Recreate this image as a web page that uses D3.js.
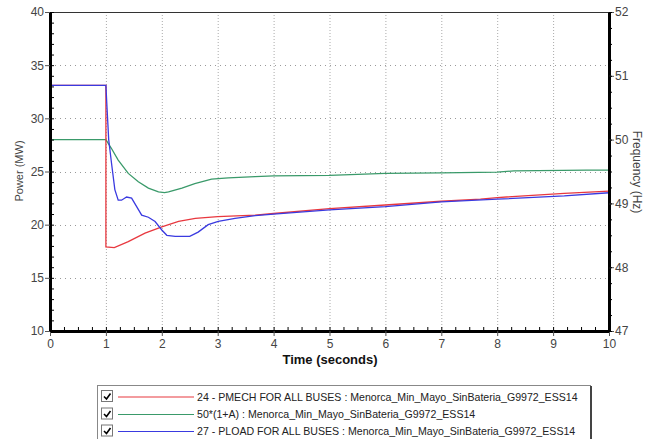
<!DOCTYPE html>
<html><head><meta charset="utf-8">
<script src="https://cdn.jsdelivr.net/npm/d3@7"></script>
<style>body{margin:0;background:#fff;}svg{display:block;font-family:Arial,"Liberation Sans",sans-serif;}</style>
</head><body><svg id="c" width="657" height="439"></svg>
<script>
const xTicks=[0,1,2,3,4,5,6,7,8,9,10];
const yLeftTicks=[10,15,20,25,30,35,40];
const yRightTicks=[47,48,49,50,51,52];
const pmechT=[0,1.0,1.0,1.15,1.4,1.7,2.0,2.3,2.6,3.0,3.67,4,5,6,7,7.7,8,9.2,10];
const pmechV=[33.1,33.1,17.9,17.85,18.4,19.2,19.8,20.3,20.6,20.75,20.9,21.05,21.5,21.85,22.2,22.4,22.55,22.95,23.15];
const ploadT=[0,1.0,1.02,1.05,1.10,1.16,1.22,1.28,1.37,1.46,1.55,1.64,1.76,1.88,2.0,2.09,2.24,2.5,2.65,2.83,3.01,3.31,3.67,4,5,6,7,8,9.2,10];
const ploadV=[33.1,33.1,31.0,28.0,25.8,23.3,22.3,22.3,22.6,22.5,21.7,20.9,20.7,20.3,19.5,19.0,18.9,18.9,19.3,20.0,20.3,20.6,20.85,21.0,21.4,21.7,22.15,22.4,22.7,23.0];
const freqT=[0,1.0,1.10,1.22,1.40,1.58,1.76,1.94,2.05,2.12,2.36,2.59,2.89,3.19,3.67,4,5,6,7,8,8.3,9.6,10];
const freqV=[50,50,49.86,49.68,49.47,49.34,49.24,49.18,49.17,49.18,49.24,49.31,49.38,49.40,49.42,49.43,49.44,49.47,49.48,49.49,49.51,49.52,49.52];
const legendLabels=["24 - PMECH FOR ALL BUSES : Menorca_Min_Mayo_SinBateria_G9972_ESS14","50*(1+A) : Menorca_Min_Mayo_SinBateria_G9972_ESS14","27 - PLOAD FOR ALL BUSES : Menorca_Min_Mayo_SinBateria_G9972_ESS14"];
const colors=["#e8383f","#3a9a6a","#3a3ae0"];

const svg=d3.select("#c");
const L=50,R=609,T=12,B=331;
const x=d3.scaleLinear().domain([0,10]).range([L,R]);
const yL=d3.scaleLinear().domain([10,40]).range([B,T]);
const yR=d3.scaleLinear().domain([47,52]).range([B,T]);

// gridlines
const g=svg.append("g");
g.selectAll(".vg").data(xTicks.slice(1,-1)).join("line")
 .attr("x1",d=>x(d)+0.5).attr("x2",d=>x(d)+0.5).attr("y1",T).attr("y2",B)
 .attr("stroke","#aaa").attr("stroke-dasharray","1,2");
g.selectAll(".hg").data(yLeftTicks.slice(1,-1)).join("line")
 .attr("x1",L).attr("x2",R).attr("y1",d=>Math.round(yL(d))+0.5).attr("y2",d=>Math.round(yL(d))+0.5)
 .attr("stroke","#999").attr("stroke-dasharray","1,4");

// lines
const line=(ys)=>d3.line().x(d=>x(d[0])).y(d=>ys(d[1]));
const series=[
 {t:freqT,v:freqV,s:yR,c:colors[1]},
 {t:pmechT,v:pmechV,s:yL,c:colors[0]},
 {t:ploadT,v:ploadV,s:yL,c:colors[2]}
];
series.forEach(se=>{
 svg.append("path").datum(se.t.map((t,i)=>[t,se.v[i]]))
  .attr("d",line(se.s)).attr("fill","none").attr("stroke",se.c).attr("stroke-width",1.3);
});

// frame
svg.append("line").attr("x1",L).attr("x2",R).attr("y1",T+0.5).attr("y2",T+0.5).attr("stroke","#333").attr("stroke-width",1);

// axes
const fmt=d3.format("d");
const axL=svg.append("g").attr("transform",`translate(${L},0)`).call(d3.axisLeft(yL).tickValues(yLeftTicks).tickFormat(fmt).tickSize(5).tickSizeOuter(0));
const axB=svg.append("g").attr("transform",`translate(0,${B})`).call(d3.axisBottom(x).tickValues(xTicks).tickFormat(fmt).tickSize(5).tickSizeOuter(0));
const axR=svg.append("g").attr("transform",`translate(${R},0)`).call(d3.axisRight(yR).tickValues(yRightTicks).tickFormat(fmt).tickSize(5).tickSizeOuter(0));
// minor ticks
svg.append("g").attr("transform",`translate(${L},0)`).call(d3.axisRight(yL).tickValues(d3.range(10,41,1)).tickFormat("").tickSize(4).tickSizeOuter(0)).select(".domain").remove();
svg.append("g").attr("transform",`translate(0,${B})`).call(d3.axisTop(x).tickValues(d3.range(0,10.01,0.25)).tickFormat("").tickSize(4).tickSizeOuter(0)).select(".domain").remove();
svg.append("g").attr("transform",`translate(${R},0)`).call(d3.axisRight(yR).tickValues(d3.range(47,52.01,0.25)).tickFormat("").tickSize(3).tickSizeOuter(0)).select(".domain").remove();

[axL,axB,axR].forEach(a=>{
 a.select(".domain").attr("stroke","#000").attr("stroke-width",3);
 a.selectAll(".tick line").attr("stroke","#555");
 a.selectAll("text").attr("font-size",12).attr("fill","#444").attr("font-family","Arial, 'Liberation Sans', sans-serif");
});
axL.selectAll("text").attr("x",-6);
axR.selectAll("text").attr("x",6);
axB.selectAll("text").attr("y",8);

// titles
svg.append("text").attr("transform",`translate(23,171) rotate(-90)`).attr("text-anchor","middle")
 .attr("font-size",11).attr("fill","#444").text("Power (MW)");
svg.append("text").attr("transform",`translate(633,172) rotate(90)`).attr("text-anchor","middle")
 .attr("font-size",12).attr("fill","#444").text("Frequency (Hz)");
svg.append("text").attr("x",330).attr("y",364).attr("text-anchor","middle")
 .attr("font-size",13).attr("font-weight","bold").attr("fill","#111").text("Time (seconds)");

// legend
const lg=svg.append("g");
lg.append("rect").attr("x",97.5).attr("y",385.5).attr("width",493).attr("height",60).attr("fill","#fff").attr("stroke","#888");
lg.append("line").attr("x1",591).attr("x2",591).attr("y1",386).attr("y2",439).attr("stroke","#444").attr("stroke-width",2);
const rowsY=[396.5,414,431];
[0,1,2].forEach(i=>{
 const cy=rowsY[i];
 lg.append("rect").attr("x",101.5).attr("y",cy-6).attr("width",11).attr("height",11).attr("fill","#fff").attr("stroke","#777");
 lg.append("path").attr("d",`M${104},${cy} L${106.5},${cy+2.5} L${110.5},${cy-3}`).attr("fill","none").attr("stroke","#000").attr("stroke-width",1.6);
 lg.append("line").attr("x1",118).attr("x2",194).attr("y1",cy+0.5).attr("y2",cy+0.5).attr("stroke",colors[i]).attr("stroke-width",1.2);
 lg.append("text").attr("x",197).attr("y",cy+4).attr("font-size",10.6).attr("fill","#222").text(legendLabels[i]);
});
</script></body></html>
